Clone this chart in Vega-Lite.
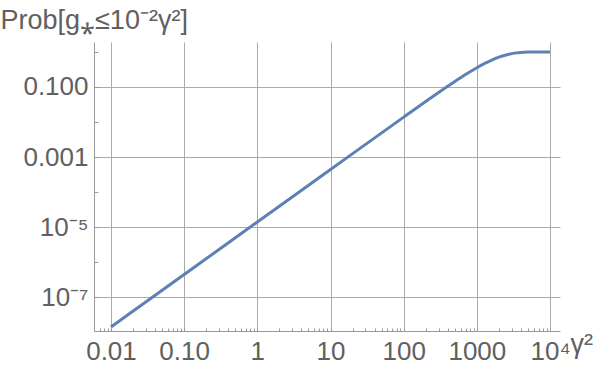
{
  "$schema": "https://vega.github.io/schema/vega-lite/v6.json",
  "width": 466,
  "height": 289,
  "autosize": {"type": "none"},
  "padding": {"left": 94, "top": 42, "right": 39, "bottom": 35},
  "background": "white",
  "config": {"view": {"stroke": null}},
  "data": {"values": [
    {"g": 0.01, "p": 1.39e-8},
    {"g": 0.1, "p": 4.40e-7},
    {"g": 1, "p": 1.39e-5},
    {"g": 10, "p": 4.40e-4},
    {"g": 100, "p": 0.0138},
    {"g": 200, "p": 0.0385},
    {"g": 300, "p": 0.0697},
    {"g": 500, "p": 0.1439},
    {"g": 700, "p": 0.2270},
    {"g": 1000, "p": 0.3556},
    {"g": 1300, "p": 0.4788},
    {"g": 1600, "p": 0.5892},
    {"g": 2000, "p": 0.7116},
    {"g": 2500, "p": 0.824},
    {"g": 3000, "p": 0.898},
    {"g": 3500, "p": 0.944},
    {"g": 4000, "p": 0.970},
    {"g": 5000, "p": 0.9927},
    {"g": 6000, "p": 0.9984},
    {"g": 7000, "p": 0.9997},
    {"g": 10000, "p": 1.0}
  ]},
  "mark": {"type": "line", "color": "#5E81B5", "strokeWidth": 3, "interpolate": "monotone", "clip": true},
  "encoding": {
    "x": {
      "field": "g", "type": "quantitative",
      "scale": {"type": "log", "domain": [0.00586, 13680], "nice": false, "zero": false},
      "axis": {
        "values": [0.007, 0.008, 0.009, 0.01, 0.02, 0.03, 0.04, 0.05, 0.06, 0.07, 0.08, 0.09, 0.1, 0.2, 0.3, 0.4, 0.5, 0.6, 0.7, 0.8, 0.9, 1, 2, 3, 4, 5, 6, 7, 8, 9, 10, 20, 30, 40, 50, 60, 70, 80, 90, 100, 200, 300, 400, 500, 600, 700, 800, 900, 1000, 2000, 3000, 4000, 5000, 6000, 7000, 8000, 9000, 10000],
        "labelExpr": "abs(log(datum.value)/LN10 - round(log(datum.value)/LN10)) > 0.001 ? '' : (datum.value == 0.01 ? '0.01' : datum.value < 0.5 && datum.value > 0.05 ? '0.10' : datum.value > 5000 ? '10⁴' : format(datum.value, 'd'))",
        "labelFont": "Liberation Sans",
        "labelFontSize": 26,
        "labelColor": "#606060",
        "labelPadding": 10,
        "labelOverlap": false,
        "labelFlush": false,
        "labelBound": false,
        "tickSize": -3,
        "tickColor": "#999999",
        "domainColor": "#999999",
        "grid": true,
        "gridColor": "#aaaaaa",
        "gridOpacity": {"condition": {"test": "abs(log(datum.value)/LN10 - round(log(datum.value)/LN10)) > 0.001", "value": 0}, "value": 1},
        "title": "γ²",
        "titleFont": "Liberation Sans",
        "titleFontSize": 27,
        "titleFontWeight": "normal",
        "titleColor": "#606060",
        "titleAngle": 0,
        "titleAlign": "left",
        "titleBaseline": "alphabetic",
        "titleX": 476,
        "titleY": 21
      }
    },
    "y": {
      "field": "p", "type": "quantitative",
      "scale": {"type": "log", "domain": [1.07e-8, 1.93], "nice": false, "zero": false},
      "axis": {
        "values": [1e-7, 1e-6, 1e-5, 1e-4, 0.001, 0.01, 0.1, 1],
        "labelExpr": "datum.value > 0.05 && datum.value < 0.5 ? '0.100' : (datum.value > 0.0005 && datum.value < 0.005 ? '0.001' : (datum.value > 5e-6 && datum.value < 5e-5 ? '10⁻⁵' : (datum.value > 5e-8 && datum.value < 5e-7 ? '10⁻⁷' : '')))",
        "labelFont": "Liberation Sans",
        "labelFontSize": 26,
        "labelColor": "#606060",
        "labelPadding": 10,
        "labelOverlap": false,
        "labelFlush": false,
        "labelBound": false,
        "tickSize": -4,
        "tickColor": "#999999",
        "domainColor": "#999999",
        "grid": true,
        "gridColor": "#aaaaaa",
        "gridOpacity": {"condition": {"test": "(datum.value > 0.05 && datum.value < 0.5) || (datum.value > 0.0005 && datum.value < 0.005) || (datum.value > 5e-6 && datum.value < 5e-5) || (datum.value > 5e-8 && datum.value < 5e-7)", "value": 1}, "value": 0},
        "title": "Prob[g⁎≤10⁻²γ²]",
        "titleFont": "Liberation Sans",
        "titleFontSize": 27,
        "titleFontWeight": "normal",
        "titleColor": "#606060",
        "titleAngle": 0,
        "titleAlign": "left",
        "titleBaseline": "alphabetic",
        "titleX": -94,
        "titleY": -14
      }
    }
  }
}
